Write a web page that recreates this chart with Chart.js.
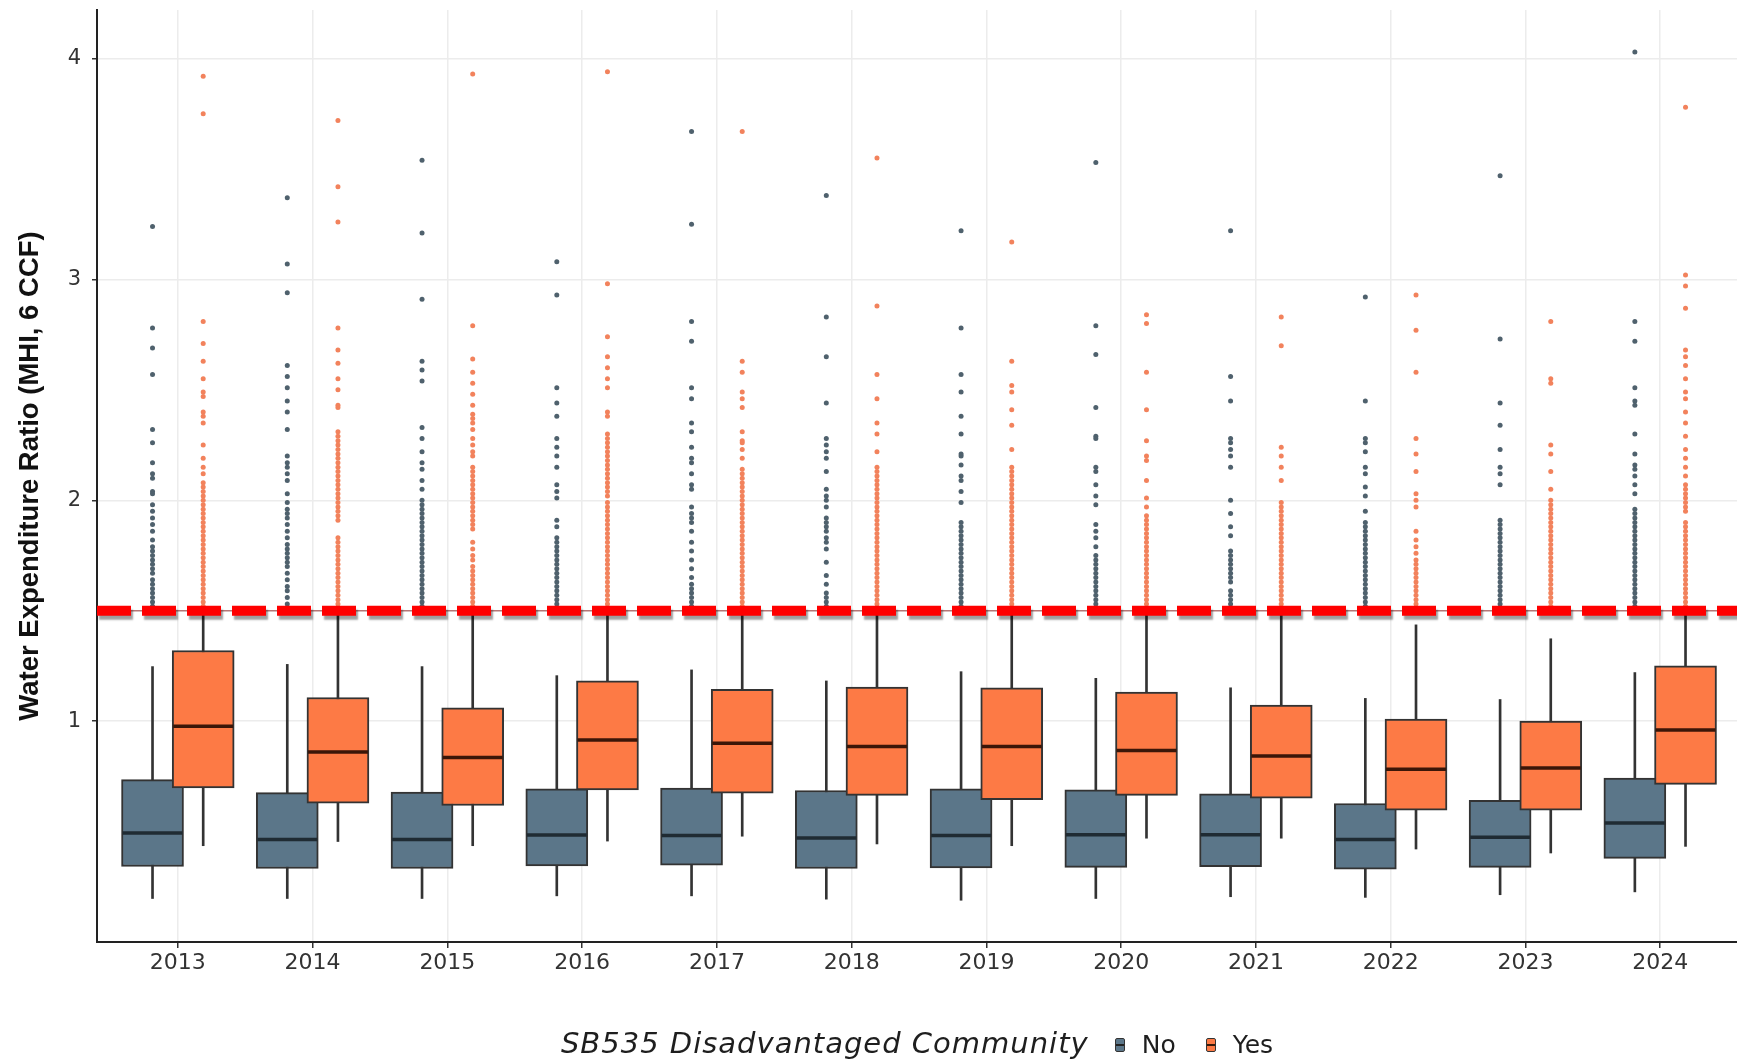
<!DOCTYPE html>
<html>
<head>
<meta charset="utf-8">
<script src="https://cdn.jsdelivr.net/npm/chart.js@4.4.1/dist/chart.umd.min.js"></script>
<style>
  body { margin: 0; background: #fff; }
  #wrap { position: relative; width: 1737px; height: 1061px; }
  #legend {
    position: absolute; left: 97px; right: 0; top: 1026px;
    text-align: center; font-family: "DejaVu Sans", sans-serif; color: #1e1e1e;
    white-space: nowrap;
  }
  #legend .ttl { font-style: italic; font-size: 29px; letter-spacing: 1px; margin-right: 26px; }
  #legend .lbl { font-size: 25px; margin-right: 30px; }
  #legend .lbl.last { margin-right: 0; }
  #legend .key {
    display: inline-block; width: 8px; height: 12px; border: 1.5px solid #333;
    border-radius: 2px; margin-right: 17px; vertical-align: 1px;
  }
  #legend .no { background: linear-gradient(#5b7689 45%, #222 45%, #222 58%, #5b7689 58%); }
  #legend .yes { background: linear-gradient(#fd7a45 45%, #3a1a0a 45%, #3a1a0a 58%, #fd7a45 58%); }
</style>
</head>
<body>
<div id="wrap">
  <canvas id="boxChart" width="1737" height="1061"></canvas>
  <div id="legend"><span class="ttl">SB535 Disadvantaged Community</span><span class="key no"></span><span class="lbl">No</span><span class="key yes"></span><span class="lbl last">Yes</span></div>
</div>
<script>
const years = ['2013', '2014', '2015', '2016', '2017', '2018', '2019', '2020', '2021', '2022', '2023', '2024'];
const yTicks = [1, 2, 3, 4];
const threshold = 1.5;

// box stats, not disadvantaged (No)
const noLow = [0.197, 0.197, 0.197, 0.209, 0.209, 0.194, 0.189, 0.197, 0.205, 0.202, 0.214, 0.227];
const noQ1 = [0.342, 0.333, 0.333, 0.345, 0.348, 0.333, 0.335, 0.338, 0.341, 0.330, 0.338, 0.379];
const noMedian = [0.494, 0.464, 0.464, 0.485, 0.482, 0.471, 0.482, 0.486, 0.486, 0.464, 0.474, 0.539];
const noQ3 = [0.735, 0.676, 0.679, 0.694, 0.697, 0.686, 0.694, 0.689, 0.671, 0.627, 0.641, 0.742];
const noHigh = [1.247, 1.257, 1.247, 1.206, 1.232, 1.182, 1.224, 1.194, 1.151, 1.103, 1.098, 1.220];

// box stats, disadvantaged (Yes)
const yesLow = [0.436, 0.455, 0.436, 0.457, 0.479, 0.444, 0.436, 0.470, 0.470, 0.421, 0.403, 0.433];
const yesQ1 = [0.698, 0.629, 0.618, 0.689, 0.674, 0.664, 0.645, 0.664, 0.651, 0.597, 0.597, 0.714];
const yesMedian = [0.977, 0.860, 0.835, 0.915, 0.900, 0.885, 0.885, 0.867, 0.842, 0.782, 0.788, 0.960];
const yesQ3 = [1.320, 1.107, 1.060, 1.183, 1.144, 1.154, 1.151, 1.132, 1.073, 1.009, 1.000, 1.250];
const yesHigh = [1.5, 1.5, 1.5, 1.5, 1.5, 1.5, 1.5, 1.5, 1.5, 1.436, 1.373, 1.5];

// points above the 1.5 line, one row per year
const noOutliers = [
  [3.24, 2.78, 2.69, 2.57, 2.32, 2.26, 2.17, 2.12, 2.10, 2.04, 2.03, 1.98, 1.95, 1.92, 1.89, 1.86, 1.82, 1.79, 1.77, 1.75, 1.73, 1.71, 1.69, 1.67, 1.64, 1.62, 1.60, 1.58, 1.56, 1.54, 1.52],
  [3.37, 3.07, 2.94, 2.61, 2.56, 2.51, 2.45, 2.40, 2.32, 2.20, 2.17, 2.15, 2.12, 2.09, 2.03, 1.99, 1.96, 1.94, 1.92, 1.89, 1.86, 1.83, 1.80, 1.78, 1.76, 1.74, 1.72, 1.70, 1.67, 1.64, 1.61, 1.59, 1.56, 1.53, 1.51],
  [3.54, 3.21, 2.91, 2.63, 2.59, 2.54, 2.33, 2.28, 2.22, 2.17, 2.14, 2.09, 2.05, 2.00, 1.98, 1.96, 1.94, 1.92, 1.90, 1.88, 1.86, 1.84, 1.82, 1.80, 1.78, 1.76, 1.74, 1.72, 1.70, 1.68, 1.66, 1.64, 1.62, 1.60, 1.58, 1.56, 1.54, 1.52],
  [3.08, 2.93, 2.51, 2.44, 2.38, 2.28, 2.24, 2.20, 2.15, 2.07, 2.04, 2.01, 1.91, 1.88, 1.83, 1.81, 1.79, 1.77, 1.75, 1.73, 1.71, 1.69, 1.67, 1.65, 1.63, 1.61, 1.59, 1.57, 1.55, 1.53, 1.51],
  [3.67, 3.25, 2.81, 2.72, 2.51, 2.46, 2.35, 2.31, 2.24, 2.19, 2.17, 2.12, 2.07, 2.05, 1.97, 1.94, 1.92, 1.90, 1.86, 1.81, 1.77, 1.73, 1.69, 1.65, 1.62, 1.60, 1.58, 1.56, 1.54, 1.52],
  [3.38, 2.83, 2.65, 2.44, 2.28, 2.25, 2.22, 2.19, 2.13, 2.05, 2.02, 2.00, 1.97, 1.92, 1.90, 1.88, 1.86, 1.83, 1.81, 1.78, 1.72, 1.66, 1.62, 1.58, 1.56, 1.54, 1.52],
  [3.22, 2.78, 2.57, 2.49, 2.38, 2.30, 2.21, 2.20, 2.16, 2.11, 2.09, 2.04, 1.99, 1.90, 1.88, 1.86, 1.84, 1.82, 1.80, 1.78, 1.76, 1.74, 1.72, 1.70, 1.68, 1.66, 1.64, 1.62, 1.60, 1.58, 1.56, 1.54, 1.52],
  [3.53, 2.79, 2.66, 2.42, 2.29, 2.28, 2.15, 2.13, 2.07, 2.02, 1.98, 1.89, 1.86, 1.83, 1.79, 1.75, 1.73, 1.71, 1.69, 1.67, 1.65, 1.63, 1.61, 1.59, 1.57, 1.55, 1.53, 1.51],
  [3.22, 2.56, 2.45, 2.28, 2.26, 2.23, 2.20, 2.15, 2.00, 1.94, 1.88, 1.84, 1.77, 1.75, 1.73, 1.71, 1.69, 1.67, 1.65, 1.63, 1.59, 1.57, 1.55, 1.53, 1.51],
  [2.92, 2.45, 2.28, 2.26, 2.22, 2.15, 2.12, 2.06, 2.02, 1.95, 1.90, 1.88, 1.86, 1.84, 1.82, 1.80, 1.78, 1.76, 1.74, 1.72, 1.70, 1.68, 1.66, 1.64, 1.62, 1.60, 1.58, 1.56, 1.54, 1.52],
  [3.47, 2.73, 2.44, 2.34, 2.23, 2.15, 2.12, 2.07, 1.91, 1.89, 1.87, 1.85, 1.83, 1.81, 1.79, 1.77, 1.75, 1.73, 1.71, 1.69, 1.67, 1.65, 1.63, 1.61, 1.59, 1.57, 1.55, 1.53, 1.51],
  [4.03, 2.81, 2.72, 2.51, 2.45, 2.43, 2.30, 2.21, 2.16, 2.14, 2.11, 2.07, 2.03, 1.96, 1.94, 1.92, 1.90, 1.88, 1.86, 1.84, 1.82, 1.80, 1.78, 1.76, 1.74, 1.72, 1.70, 1.68, 1.66, 1.64, 1.62, 1.60, 1.58, 1.56, 1.54, 1.52]
];
const yesOutliers = [
  [3.92, 3.75, 2.81, 2.71, 2.63, 2.55, 2.49, 2.47, 2.40, 2.38, 2.35, 2.25, 2.19, 2.15, 2.12, 2.08, 2.06, 2.04, 2.02, 2.00, 1.98, 1.96, 1.94, 1.92, 1.90, 1.88, 1.86, 1.84, 1.82, 1.80, 1.78, 1.76, 1.74, 1.72, 1.70, 1.68, 1.66, 1.64, 1.62, 1.60, 1.58, 1.56, 1.54, 1.52],
  [3.72, 3.42, 3.26, 2.78, 2.68, 2.62, 2.55, 2.50, 2.43, 2.42, 2.31, 2.29, 2.27, 2.25, 2.23, 2.21, 2.19, 2.17, 2.15, 2.13, 2.11, 2.09, 2.07, 2.05, 2.03, 2.01, 1.99, 1.97, 1.95, 1.93, 1.91, 1.83, 1.81, 1.79, 1.77, 1.75, 1.73, 1.71, 1.69, 1.67, 1.65, 1.63, 1.61, 1.59, 1.57, 1.55, 1.53, 1.51],
  [3.93, 2.79, 2.64, 2.58, 2.53, 2.48, 2.43, 2.39, 2.37, 2.35, 2.32, 2.28, 2.25, 2.22, 2.20, 2.15, 2.13, 2.11, 2.09, 2.07, 2.05, 2.03, 2.01, 1.99, 1.97, 1.95, 1.93, 1.91, 1.89, 1.87, 1.81, 1.78, 1.75, 1.73, 1.70, 1.68, 1.66, 1.64, 1.62, 1.60, 1.58, 1.56, 1.54, 1.52],
  [3.94, 2.98, 2.74, 2.65, 2.60, 2.55, 2.51, 2.40, 2.38, 2.30, 2.28, 2.26, 2.24, 2.22, 2.20, 2.18, 2.16, 2.14, 2.12, 2.10, 2.08, 2.06, 2.04, 2.02, 1.99, 1.97, 1.95, 1.93, 1.91, 1.89, 1.87, 1.85, 1.83, 1.81, 1.79, 1.77, 1.75, 1.73, 1.71, 1.69, 1.67, 1.65, 1.63, 1.61, 1.59, 1.57, 1.55, 1.53, 1.51],
  [3.67, 2.63, 2.58, 2.49, 2.46, 2.42, 2.31, 2.27, 2.26, 2.23, 2.19, 2.14, 2.12, 2.10, 2.08, 2.06, 2.04, 2.02, 2.00, 1.98, 1.96, 1.94, 1.92, 1.90, 1.88, 1.86, 1.84, 1.82, 1.80, 1.78, 1.76, 1.74, 1.72, 1.70, 1.68, 1.66, 1.64, 1.62, 1.60, 1.58, 1.56, 1.54, 1.52],
  [3.55, 2.88, 2.57, 2.46, 2.35, 2.30, 2.22, 2.15, 2.13, 2.11, 2.09, 2.07, 2.05, 2.03, 2.01, 1.99, 1.97, 1.95, 1.93, 1.91, 1.89, 1.87, 1.85, 1.83, 1.81, 1.79, 1.77, 1.75, 1.73, 1.71, 1.69, 1.67, 1.65, 1.63, 1.61, 1.59, 1.57, 1.55, 1.53, 1.51],
  [3.17, 2.63, 2.52, 2.49, 2.41, 2.34, 2.23, 2.15, 2.13, 2.11, 2.09, 2.07, 2.05, 2.03, 2.01, 1.99, 1.97, 1.95, 1.93, 1.91, 1.89, 1.87, 1.85, 1.83, 1.81, 1.79, 1.77, 1.75, 1.73, 1.71, 1.69, 1.67, 1.65, 1.63, 1.61, 1.59, 1.57, 1.55, 1.53, 1.51],
  [2.84, 2.80, 2.58, 2.41, 2.27, 2.20, 2.18, 2.09, 2.01, 1.97, 1.93, 1.91, 1.89, 1.87, 1.85, 1.83, 1.81, 1.79, 1.77, 1.75, 1.73, 1.71, 1.69, 1.67, 1.65, 1.63, 1.61, 1.59, 1.57, 1.55, 1.53, 1.51],
  [2.83, 2.70, 2.24, 2.20, 2.15, 2.09, 1.99, 1.97, 1.95, 1.93, 1.91, 1.89, 1.87, 1.85, 1.83, 1.81, 1.79, 1.77, 1.75, 1.73, 1.71, 1.69, 1.67, 1.65, 1.63, 1.61, 1.59, 1.57, 1.55, 1.53, 1.51],
  [2.93, 2.77, 2.58, 2.28, 2.21, 2.13, 2.03, 2.00, 1.97, 1.86, 1.82, 1.79, 1.76, 1.73, 1.71, 1.69, 1.67, 1.65, 1.63, 1.61, 1.59, 1.57, 1.55, 1.53, 1.51],
  [2.81, 2.55, 2.53, 2.25, 2.21, 2.13, 2.05, 2.00, 1.98, 1.96, 1.94, 1.92, 1.90, 1.88, 1.86, 1.84, 1.82, 1.80, 1.78, 1.76, 1.74, 1.72, 1.70, 1.68, 1.66, 1.64, 1.62, 1.60, 1.58, 1.56, 1.54, 1.52],
  [3.78, 3.02, 2.97, 2.87, 2.68, 2.65, 2.61, 2.55, 2.49, 2.46, 2.40, 2.35, 2.29, 2.23, 2.19, 2.15, 2.11, 2.07, 2.05, 2.03, 2.01, 1.99, 1.97, 1.95, 1.90, 1.88, 1.86, 1.84, 1.82, 1.80, 1.78, 1.76, 1.74, 1.72, 1.70, 1.68, 1.66, 1.64, 1.62, 1.60, 1.58, 1.56, 1.54, 1.52]
];

const xMin = 0.4, xMax = 12.57;
const dodge = 0.188;       // ggplot-style dodge of the two groups
const boxWidth = 62;       // px
const noFill = '#5b7689', yesFill = '#fd7a45';

function spans(lo, hi, off) {
    return years.map((y, i) => ({ x: i + 1 + off, y: [lo[i], hi[i]] }));
}
function mids(vals, off) {
    return years.map((y, i) => ({ x: i + 1 + off, y: vals[i] }));
}
function dots(rows, off) {
    return rows.flatMap((vals, i) => vals.map(v => ({ x: i + 1 + off, y: v })));
}

function whiskerSet(lo, hi, off, order) {
    return { type: 'bar', data: spans(lo, hi, off), grouped: false, barThickness: 2,
             backgroundColor: '#333333', borderWidth: 0, order: order };
}
function boxSet(q1, q3, off, fill, order) {
    return { type: 'bar', data: spans(q1, q3, off), grouped: false, barThickness: boxWidth,
             backgroundColor: fill, borderColor: '#333333', borderWidth: 2, borderSkipped: false, order: order };
}
function medianSet(med, off, color, order) {
    return { type: 'line', data: mids(med, off), showLine: false, pointStyle: 'line',
             pointRadius: boxWidth / 2 - 1, pointBorderWidth: 3.5, pointBorderColor: color, order: order };
}
function pointSet(rows, off, color, order) {
    return { type: 'line', data: dots(rows, off), showLine: false, pointStyle: 'circle',
             pointRadius: 2.5, pointBorderWidth: 0, pointBackgroundColor: color, order: order };
}

// soft drop shadow under the dashed threshold line
const shadowPlugin = {
    id: 'lineShadow',
    beforeDatasetDraw(chart, args) {
        if (chart.data.datasets[args.index].shadow) {
            const c = chart.ctx;
            c.save();
            c.shadowColor = 'rgba(0,0,0,0.38)';
            c.shadowOffsetX = 2;
            c.shadowOffsetY = 4;
            c.shadowBlur = 2;
        }
    },
    afterDatasetDraw(chart, args) {
        if (chart.data.datasets[args.index].shadow) chart.ctx.restore();
    }
};

const thresholdLine = [{ x: xMin, y: threshold }, { x: xMax, y: threshold }];

const ctx = document.getElementById('boxChart').getContext('2d');
new Chart(ctx, {
    type: 'bar',
    data: {
        datasets: [
            pointSet(noOutliers, -dodge, '#4f616d', 9),
            pointSet(yesOutliers, dodge, '#f2825c', 8),
            whiskerSet(noLow, noHigh, -dodge, 7),
            boxSet(noQ1, noQ3, -dodge, noFill, 6),
            medianSet(noMedian, -dodge, '#1f2b33', 5),
            whiskerSet(yesLow, yesHigh, dodge, 4),
            boxSet(yesQ1, yesQ3, dodge, yesFill, 3),
            medianSet(yesMedian, dodge, '#3b1608', 2),
            { type: 'line', data: thresholdLine, borderColor: 'rgba(150,60,60,0.7)', borderWidth: 1.5,
              pointRadius: 0, order: 1 },
            { type: 'line', data: thresholdLine, borderColor: '#ff0000', borderWidth: 10, borderDash: [34, 11],
              borderCapStyle: 'butt', pointRadius: 0, shadow: true, order: 0 }
        ]
    },
    plugins: [shadowPlugin],
    options: {
        responsive: false,
        animation: false,
        layout: { autoPadding: false, padding: { top: 10, right: 0, bottom: 0, left: 0 } },
        plugins: {
            legend: { display: false },
            tooltip: { enabled: false }
        },
        scales: {
            x: {
                type: 'linear',
                min: xMin,
                max: xMax,
                offset: false,
                afterBuildTicks: s => { s.ticks = years.map((y, i) => ({ value: i + 1 })); },
                afterFit: s => { s.height = 119; s.paddingLeft = 0; s.paddingRight = 0; },
                ticks: {
                    callback: v => years[v - 1],
                    color: '#333333',
                    font: { family: 'DejaVu Sans', size: 22 },
                    padding: 2,
                    maxRotation: 0,
                    autoSkip: false
                },
                grid: { offset: false, color: '#ececec', lineWidth: 1.5, tickColor: '#333333', tickLength: 6, tickWidth: 1.5 },
                border: { color: '#222222', width: 2 }
            },
            y: {
                type: 'linear',
                min: 0,
                max: 4.22,
                afterBuildTicks: s => { s.ticks = yTicks.map(v => ({ value: v })); },
                afterFit: s => { s.width = 97; s.paddingTop = 0; s.paddingBottom = 0; },
                ticks: {
                    color: '#333333',
                    font: { family: 'DejaVu Sans', size: 21 },
                    padding: 11
                },
                grid: { color: '#ececec', lineWidth: 1.5, tickColor: '#333333', tickLength: 5, tickWidth: 1.5 },
                border: { color: '#222222', width: 2 },
                title: {
                    display: true,
                    text: 'Water Expenditure Ratio (MHI, 6 CCF)',
                    color: '#111111',
                    font: { family: 'Liberation Sans', weight: 'bold', size: 27.5 },
                    padding: { top: 14, bottom: 0 }
                }
            }
        }
    }
});
</script>
</body>
</html>
